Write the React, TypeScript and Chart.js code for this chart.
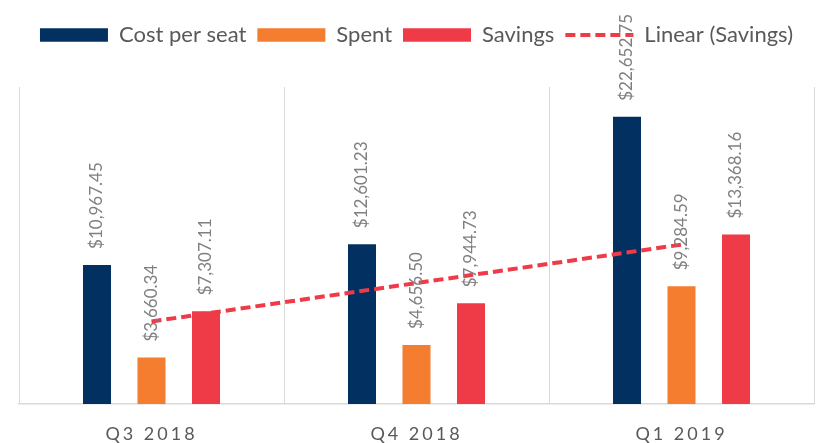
import React, { useEffect, useRef } from 'react';
import { Chart, registerables, CategoryScale } from 'chart.js';

Chart.register(...registerables);

class SpacedCategoryScale extends CategoryScale {
  static id = 'spacedCategory';
  static defaults = CategoryScale.defaults;
  drawLabels(chartArea: any) {
    const ctx: any = this.ctx;
    const prev = ctx.letterSpacing;
    ctx.letterSpacing = '3px';
    super.drawLabels(chartArea);
    ctx.letterSpacing = prev;
  }
}
Chart.register(SpacedCategoryScale as any);

// ---- data ----
const categories = ['Q3 2018', 'Q4 2018', 'Q1 2019'];
const costPerSeat = [10967.45, 12601.23, 22652.75];
const spent = [3660.34, 4656.5, 9284.59];
const savings = [7307.11, 7944.73, 13368.16];
const savingsTrend = [6509.48, 9540.0, 12570.53];
const yMin = 0;
const yMax = 25000;

const NAVY = '#023161';
const ORANGE = '#F47D30';
const RED = '#EF3A47';
const FONT = 'Lato';

const fmt = (v: number) =>
  '$' + v.toLocaleString('en-US', { minimumFractionDigits: 2, maximumFractionDigits: 2 });

const barLabels = {
  id: 'barLabels',
  afterDatasetsDraw(chart: any) {
    const ctx = chart.ctx;
    chart.data.datasets.forEach((ds: any, di: number) => {
      if (ds.type === 'line') return;
      const meta = chart.getDatasetMeta(di);
      meta.data.forEach((el: any, i: number) => {
        ctx.save();
        ctx.translate(el.x, el.y - 16);
        ctx.rotate(-Math.PI / 2);
        ctx.font = `17px ${FONT}`;
        ctx.fillStyle = '#808080';
        ctx.textAlign = 'left';
        ctx.textBaseline = 'middle';
        ctx.fillText(fmt(ds.data[i]), 0, 0);
        ctx.restore();
      });
    });
  },
};

const legendSpacer = {
  id: 'legendSpacer',
  afterInit(chart: any) {
    const legend = chart.legend;
    if (!legend) return;
    const orig = legend.fit;
    legend.fit = function () {
      orig.call(this);
      this.height = 74;
    };
  },
};

export default function App() {
  const ref = useRef<HTMLCanvasElement | null>(null);
  useEffect(() => {
    if (!ref.current) return;
    const chart = new Chart(ref.current, {
      type: 'bar',
      data: {
        labels: categories,
        datasets: [
          { type: 'bar', label: 'Cost per seat', data: costPerSeat, backgroundColor: NAVY, borderWidth: 0, pointStyle: 'rect', order: 1 },
          { type: 'bar', label: 'Spent', data: spent, backgroundColor: ORANGE, borderWidth: 0, pointStyle: 'rect', order: 1 },
          { type: 'bar', label: 'Savings', data: savings, backgroundColor: RED, borderWidth: 0, pointStyle: 'rect', order: 1 },
          {
            type: 'line',
            label: 'Linear (Savings)',
            data: savingsTrend,
            borderColor: RED,
            backgroundColor: RED,
            borderWidth: 4,
            borderDash: [10, 5],
            pointRadius: 0,
            pointStyle: 'line',
            fill: false,
            tension: 0,
            order: 0,
          },
        ] as any,
      },
      options: {
        animation: false,
        responsive: false,
        categoryPercentage: 0.617,
        barPercentage: 0.514,
        layout: { padding: { top: 13, left: 19, right: 3, bottom: 0 } },
        plugins: {
          tooltip: { enabled: false },
          legend: {
            position: 'top',
            labels: {
              usePointStyle: true,
              pointStyleWidth: 68,
              boxHeight: 13.4,
              padding: 11,
              color: '#595959',
              font: { family: FONT, size: 22 },
              sort: (a: any, b: any) => a.datasetIndex - b.datasetIndex,
              generateLabels: (chart: any) => {
                const items = (Chart.defaults.plugins.legend.labels as any).generateLabels(chart);
                return items.map((it: any) => {
                  const ds: any = chart.data.datasets[it.datasetIndex];
                  if (ds.type === 'line') {
                    return { ...it, pointStyle: 'line', lineDash: [10, 5], lineWidth: 4, strokeStyle: RED, lineCap: 'butt' };
                  }
                  return { ...it, pointStyle: 'rect', lineWidth: 0 };
                });
              },
            },
          },
        },
        scales: {
          x: {
            type: 'spacedCategory' as any,
            offset: true,
            grid: { offset: true, display: true, color: '#d9d9d9', lineWidth: 1, drawTicks: false },
            border: { display: true, color: '#d9d9d9', width: 1.5 },
            ticks: { color: '#595959', padding: 21, font: { family: FONT, size: 18, lineHeight: 1.0 } },
            afterFit: (scale: any) => {
              scale.height = 39;
            },
          },
          y: { display: false, min: yMin, max: yMax },
        },
      } as any,
      plugins: [barLabels, legendSpacer],
    });
    return () => chart.destroy();
  }, []);
  return (
    <div style={{ position: 'fixed', left: 0, top: 0, width: 817, height: 443, background: '#fff' }}>
      <canvas ref={ref} width={817} height={443} style={{ display: 'block' }} />
    </div>
  );
}
